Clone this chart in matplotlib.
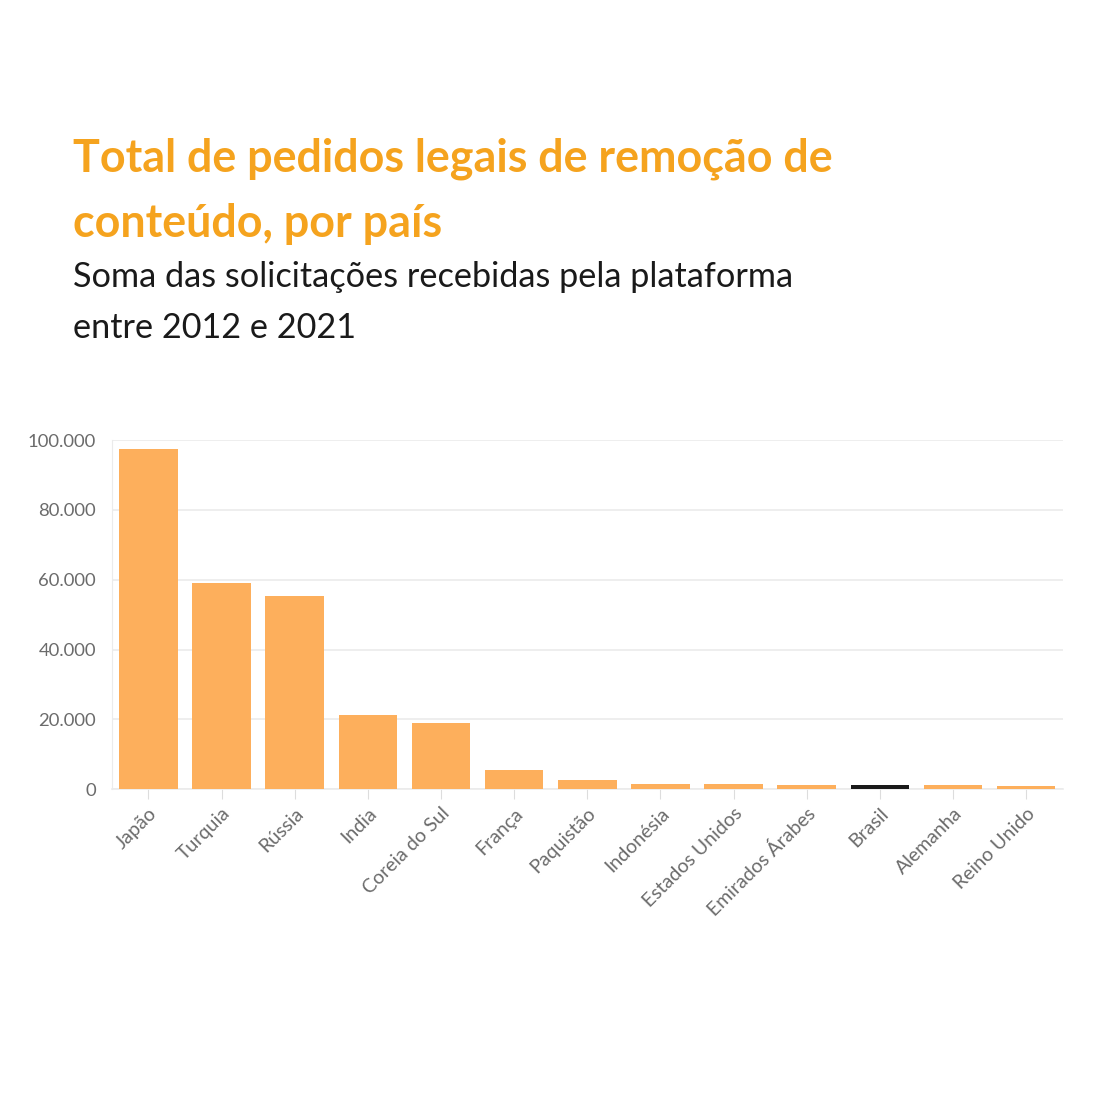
import matplotlib.pyplot as plt
from matplotlib.ticker import FuncFormatter

# dados
paises = ['Japão', 'Turquia', 'Rússia', 'India', 'Coreia do Sul', 'França', 'Paquistão',
          'Indonésia', 'Estados Unidos', 'Emirados Árabes', 'Brasil', 'Alemanha', 'Reino Unido']
pedidos = [97400, 59000, 55300, 21200, 18900, 5600, 2800, 1600, 1450, 1350, 1300, 1100, 850]
destaque = 'Brasil'

laranja = '#FDAF5C'
titulo_cor = '#F5A31E'
cinza = '#6b6b6b'

plt.rcParams['font.family'] = ['Lato', 'DejaVu Sans']

fig = plt.figure(figsize=(11.07, 11.07), dpi=100)
fig.patch.set_facecolor('white')

fig.text(0.066, 0.845, 'Total de pedidos legais de remoção de', fontsize=32.3, fontweight='bold',
         color=titulo_cor, va='baseline')
fig.text(0.066, 0.786, 'conteúdo, por país', fontsize=32.3, fontweight='bold',
         color=titulo_cor, va='baseline')
fig.text(0.066, 0.741, 'Soma das solicitações recebidas pela plataforma', fontsize=24.7,
         color='#1a1a1a', va='baseline')
fig.text(0.066, 0.695, 'entre 2012 e 2021', fontsize=24.7, color='#1a1a1a', va='baseline')

ax = fig.add_axes([0.101, 0.287, 0.859, 0.3155])
cores = ['#1a1a1a' if p == destaque else laranja for p in paises]
ax.bar(range(len(paises)), pedidos, width=0.8, color=cores, zorder=3)

ax.set_xlim(-0.5, len(paises) - 0.5)
ax.set_ylim(0, 100000)
ax.set_yticks([0, 20000, 40000, 60000, 80000, 100000])
ax.yaxis.set_major_formatter(FuncFormatter(lambda v, p: f'{int(v):,}'.replace(',', '.')))
ax.grid(axis='y', color='#ebebeb', linewidth=1.2, zorder=0)

for s in ['top', 'right']:
    ax.spines[s].set_visible(False)
ax.spines['left'].set_color('#ebebeb')
ax.spines['bottom'].set_color('#ebebeb')
ax.spines['bottom'].set_linewidth(1.2)

ax.set_xticks(range(len(paises)))
ax.set_xticklabels(paises, rotation=45, ha='right', rotation_mode='anchor')
ax.tick_params(axis='x', colors='#dddddd', length=7, pad=4, labelsize=14, labelcolor=cinza)
ax.tick_params(axis='y', length=0, pad=11.5, labelsize=13.3, labelcolor=cinza)

fig.savefig('out.png', dpi=100)
